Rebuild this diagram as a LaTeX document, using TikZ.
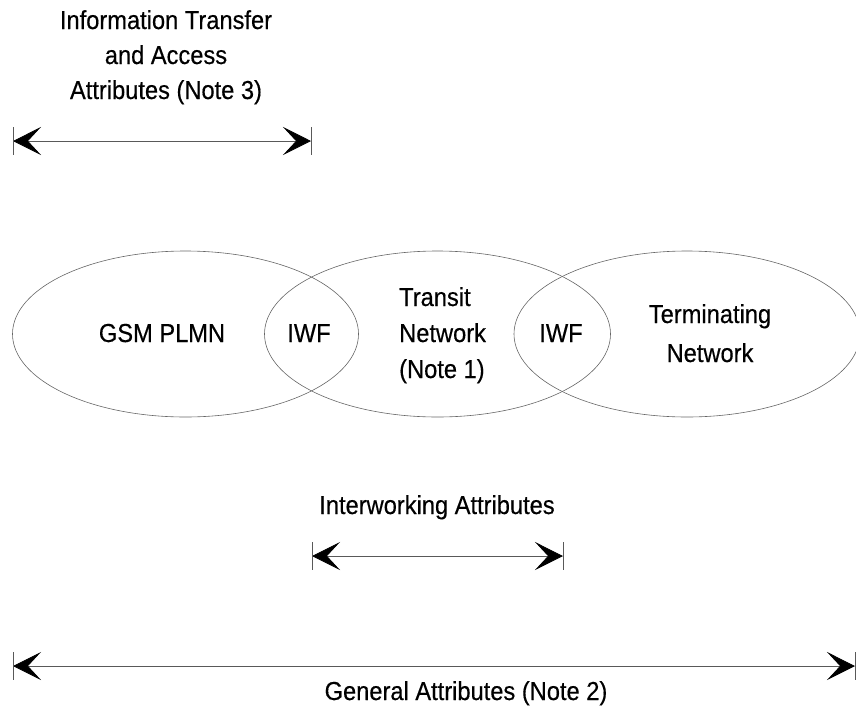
\documentclass[tikz,border=0pt]{standalone}
\usepackage{fontspec}
\setmainfont{Liberation Sans}[FakeStretch=0.91, FakeBold=0.4]
\usetikzlibrary{arrows.meta,shapes.geometric}

\tikzset{
    netw/.style={ellipse, draw=black!60, line width=0.6pt, minimum width=346pt, minimum height=166pt, inner sep=0pt},
    txt/.style={font=\fontsize{26}{33}\selectfont, inner sep=0pt},
    attrarrow/.style={draw=black!65, line width=0.7pt, {Stealth[length=28pt,width=28pt,inset=13pt,black]}-{Stealth[length=28pt,width=28pt,inset=13pt,black]}},
    endbar/.style={draw=black!65, line width=0.7pt},
}

\begin{document}
\begin{tikzpicture}[x=1pt, y=-1pt]
\useasboundingbox (0,0) rectangle (856,707);

% the three networks
\node[netw] (gsm) at (185.5,334) {};
\node[netw] (transit) at (437.5,334) {};
\node[netw] (term) at (687,334) {};

% labels, multi-line ones sit on their last baseline
\node[txt, anchor=base] (gsmlbl) at (162,342) {GSM PLMN};
\node[txt, anchor=base] (iwfa) at (309,342) {IWF};
\node[txt, anchor=base] (iwfb) at (561,342) {IWF};
\node[txt, align=left, anchor=base west, font=\fontsize{26}{36}\selectfont] (transitlbl) at (399,378) {Transit\\Network\\(Note 1)};
\node[txt, align=center, anchor=base, font=\fontsize{26}{39}\selectfont] (termlbl) at (710,362) {Terminating\\Network};

% attribute ranges
\coordinate (infoL) at (13,141);
\coordinate (infoR) at (311,141);
\coordinate (iwL) at (312,556);
\coordinate (iwR) at (563,556);
\coordinate (genL) at (13,666);
\coordinate (genR) at (855,666);

\foreach \a\b in {infoL/infoR, iwL/iwR, genL/genR} {
    \draw[attrarrow] (\a) -- (\b);
    \draw[endbar] (\a) ++(0,-14) -- ++(0,28);
    \draw[endbar] (\b) ++(0,-14) -- ++(0,28);
}

\node[txt, align=center, anchor=base, font=\fontsize{26}{35}\selectfont] (infolbl) at (166,99) {Information Transfer\\and Access\\Attributes (Note 3)};
\node[txt, anchor=base] (iwlbl) at (437,514) {Interworking Attributes};
\node[txt, anchor=base] (genlbl) at (466,700) {General Attributes (Note 2)};

\end{tikzpicture}
\end{document}
